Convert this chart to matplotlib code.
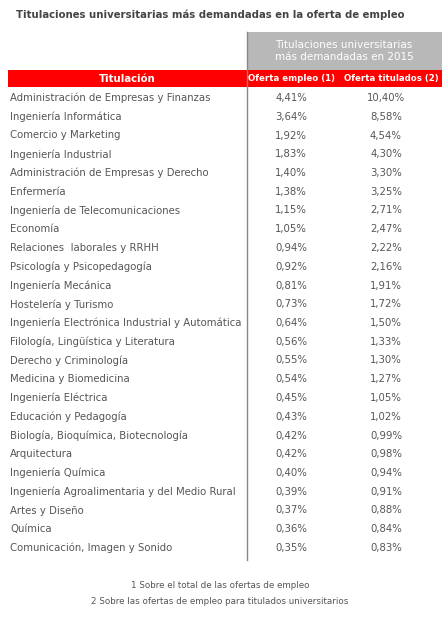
import matplotlib
matplotlib.use("Agg")
import matplotlib.pyplot as plt
from matplotlib.patches import Rectangle

titulaciones = ["Administración de Empresas y Finanzas","Ingeniería Informática","Comercio y Marketing",
"Ingeniería Industrial","Administración de Empresas y Derecho","Enfermería","Ingeniería de Telecomunicaciones",
"Economía","Relaciones  laborales y RRHH","Psicología y Psicopedagogía","Ingeniería Mecánica","Hostelería y Turismo",
"Ingeniería Electrónica Industrial y Automática","Filología, Lingüística y Literatura","Derecho y Criminología",
"Medicina y Biomedicina","Ingeniería Eléctrica","Educación y Pedagogía","Biología, Bioquímica, Biotecnología",
"Arquitectura","Ingeniería Química","Ingeniería Agroalimentaria y del Medio Rural","Artes y Diseño","Química",
"Comunicación, Imagen y Sonido"]
oferta_empleo = [4.41,3.64,1.92,1.83,1.40,1.38,1.15,1.05,0.94,0.92,0.81,0.73,0.64,0.56,0.55,0.54,0.45,0.43,0.42,0.42,0.40,0.39,0.37,0.36,0.35]
oferta_titulados = [10.40,8.58,4.54,4.30,3.30,3.25,2.71,2.47,2.22,2.16,1.91,1.72,1.50,1.33,1.30,1.27,1.05,1.02,0.99,0.98,0.94,0.91,0.88,0.84,0.83]

fmt = lambda v: f"{v:.2f}".replace(".", ",") + "%"

fig = plt.figure(figsize=(4.42, 6.17), dpi=100)
ax = fig.add_axes([0, 0, 1, 1])
ax.set_xlim(0, 442); ax.set_ylim(617, 0); ax.axis("off")
tc = "#555555"
ax.text(210, 15, "Titulaciones universitarias más demandadas en la oferta de empleo", ha="center", va="center",
        fontsize=7.3, color="#444444", fontweight="bold")
ax.add_patch(Rectangle((247, 32), 195, 38, color="#b8b8b8", lw=0))
ax.text(344, 51, "Titulaciones universitarias\nmás demandadas en 2015", ha="center", va="center",
        fontsize=7.5, color="white", linespacing=1.3)
ax.add_patch(Rectangle((8, 70), 434, 17, color="#ff0000", lw=0))
ax.text(127, 78.5, "Titulación", ha="center", va="center", fontsize=7.3, color="white", fontweight="bold")
ax.text(292, 78.5, "Oferta empleo (1)", ha="center", va="center", fontsize=6.2, color="white", fontweight="bold")
ax.text(391, 78.5, "Oferta titulados (2)", ha="center", va="center", fontsize=6.2, color="white", fontweight="bold")
ax.plot([247, 247], [32, 560], color="#888888", lw=1)
step = 18.75
for i, (t, a, b) in enumerate(zip(titulaciones, oferta_empleo, oferta_titulados)):
    y = 98 + i * step
    ax.text(10, y, t, ha="left", va="center", fontsize=7.3, color=tc)
    ax.text(291, y, fmt(a), ha="center", va="center", fontsize=7.3, color=tc)
    ax.text(386, y, fmt(b), ha="center", va="center", fontsize=7.3, color=tc)
ax.text(220, 585, "1 Sobre el total de las ofertas de empleo", ha="center", va="center", fontsize=6.3, color=tc)
ax.text(220, 601, "2 Sobre las ofertas de empleo para titulados universitarios", ha="center", va="center", fontsize=6.3, color=tc)
fig.savefig("out.png", dpi=100)
